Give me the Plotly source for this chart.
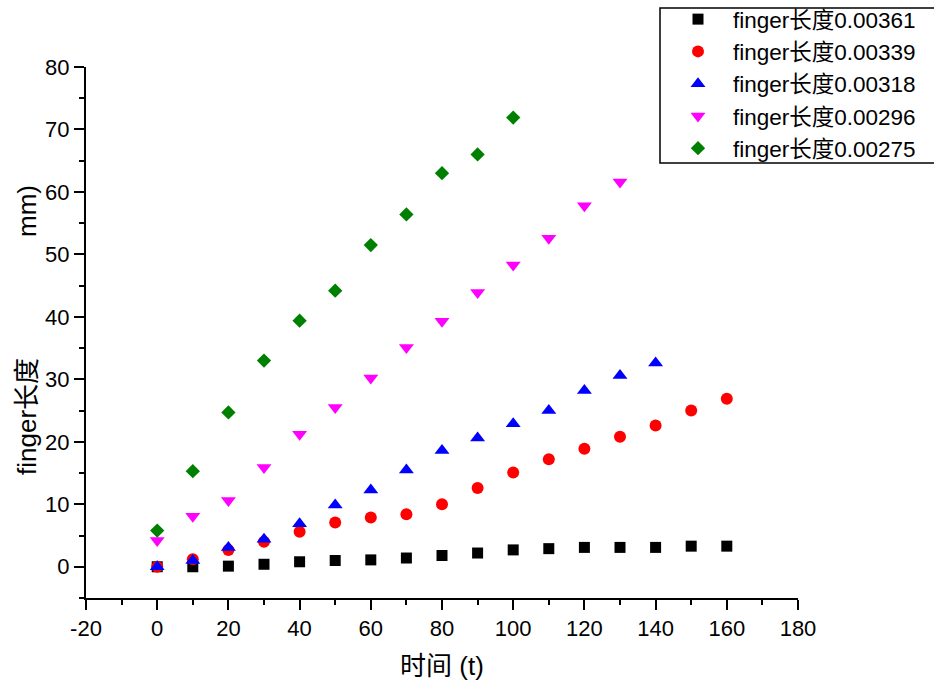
import plotly.graph_objects as go

# Time points (t) for each series
t_361 = [0, 10, 20, 30, 40, 50, 60, 70, 80, 90, 100, 110, 120, 130, 140, 150, 160]
t_339 = [0, 10, 20, 30, 40, 50, 60, 70, 80, 90, 100, 110, 120, 130, 140, 150, 160]
t_318 = [0, 10, 20, 30, 40, 50, 60, 70, 80, 90, 100, 110, 120, 130, 140]
t_296 = [0, 10, 20, 30, 40, 50, 60, 70, 80, 90, 100, 110, 120, 130]
t_275 = [0, 10, 20, 30, 40, 50, 60, 70, 80, 90, 100]

# finger length (mm)
len_361 = [0, 0, 0.1, 0.4, 0.8, 1.0, 1.1, 1.4, 1.8, 2.2, 2.7, 2.9, 3.1, 3.1, 3.1, 3.3, 3.3]
len_339 = [0, 1.2, 2.7, 4.0, 5.6, 7.1, 7.9, 8.4, 10.0, 12.6, 15.1, 17.2, 18.9, 20.8, 22.6, 25.0, 26.9]
len_318 = [0, 1.0, 3.1, 4.4, 6.9, 9.9, 12.3, 15.5, 18.6, 20.6, 22.9, 25.0, 28.2, 30.6, 32.6]
len_296 = [4.2, 8.1, 10.6, 15.9, 21.2, 25.5, 30.2, 35.1, 39.3, 43.9, 48.3, 52.6, 57.8, 61.6]
len_275 = [5.8, 15.3, 24.7, 33.0, 39.4, 44.2, 51.5, 56.4, 63.0, 66.0, 71.9]

series_names = ["finger长度0.00361", "finger长度0.00339", "finger长度0.00318",
                "finger长度0.00296", "finger长度0.00275"]

# Axis tick positions and labels (plain hyphen for negatives)
x_tickvals = [-20, 0, 20, 40, 60, 80, 100, 120, 140, 160, 180]
x_ticktext = ["-20", "0", "20", "40", "60", "80", "100", "120", "140", "160", "180"]
y_tickvals = [0, 10, 20, 30, 40, 50, 60, 70, 80]
y_ticktext = ["0", "10", "20", "30", "40", "50", "60", "70", "80"]

FONT = "Arial, 'Liberation Sans', 'Noto Sans CJK SC', sans-serif"

styles = [
    dict(symbol="square", color="#000000", size=11),
    dict(symbol="circle", color="#FF0000", size=12),
    dict(symbol="triangle-up", color="#0000FF", size=13),
    dict(symbol="triangle-down", color="#FF00FF", size=13),
    dict(symbol="diamond", color="#008000", size=11),
]

xs = [t_361, t_339, t_318, t_296, t_275]
ys = [len_361, len_339, len_318, len_296, len_275]

fig = go.Figure()
for x, y, name, st in zip(xs, ys, series_names, styles):
    fig.add_trace(go.Scatter(
        x=x, y=y, mode="markers", name=name,
        marker=dict(symbol=st["symbol"], color=st["color"], size=st["size"],
                    line=dict(width=0)),
        cliponaxis=False,
    ))

W, H = 934, 681
L, R, T, B = 86, 136, 67, 83
pw, ph = W - L - R, H - T - B


def px_x(p):
    return (p - L) / pw


def px_y(p):
    return (H - B - p) / ph


fig.update_layout(
    width=W, height=H,
    margin=dict(l=L, r=R, t=T, b=B, autoexpand=False),
    paper_bgcolor="white", plot_bgcolor="white",
    font=dict(family=FONT, color="black", size=22),
    showlegend=True,
    legend=dict(
        x=px_x(663), y=px_y(-2), xanchor="left", yanchor="top",
        bgcolor="rgba(0,0,0,0)", borderwidth=0,
        font=dict(family=FONT, size=22.5, color="black"),
        itemwidth=60, traceorder="normal",
        itemsizing="trace",
    ),
    xaxis=dict(
        range=[-20, 180], tickmode="array", tickvals=x_tickvals, ticktext=x_ticktext,
        showline=True, linecolor="black", linewidth=2,
        ticks="outside", ticklen=10, tickwidth=2, tickcolor="black",
        minor=dict(dtick=10, tick0=0, ticks="outside", ticklen=5, tickwidth=2, tickcolor="black"),
        showgrid=False, zeroline=False,
        tickfont=dict(family=FONT, size=22),
        title=dict(text="时间 (t)", font=dict(family=FONT, size=26), standoff=18),
    ),
    yaxis=dict(
        range=[-5, 80], tickmode="array", tickvals=y_tickvals, ticktext=y_ticktext,
        showline=True, linecolor="black", linewidth=2,
        ticks="outside", ticklen=10, tickwidth=2, tickcolor="black",
        minor=dict(dtick=5, tick0=0, ticks="outside", ticklen=5, tickwidth=2, tickcolor="black"),
        showgrid=False, zeroline=False,
        tickfont=dict(family=FONT, size=22),
    ),
    shapes=[dict(
        type="rect", xref="paper", yref="paper",
        x0=px_x(660), x1=px_x(945), y0=px_y(163), y1=px_y(8),
        line=dict(color="black", width=1.5), fillcolor="rgba(0,0,0,0)",
    )],
    annotations=[
        dict(text="finger长度", xref="paper", yref="paper",
             x=px_x(27), y=px_y(417), xanchor="center", yanchor="middle",
             textangle=-90, showarrow=False, font=dict(family=FONT, size=26)),
        dict(text="mm)", xref="paper", yref="paper",
             x=px_x(27), y=px_y(211), xanchor="center", yanchor="middle",
             textangle=-90, showarrow=False, font=dict(family=FONT, size=26)),
    ],
)

fig.write_html("out.html")
